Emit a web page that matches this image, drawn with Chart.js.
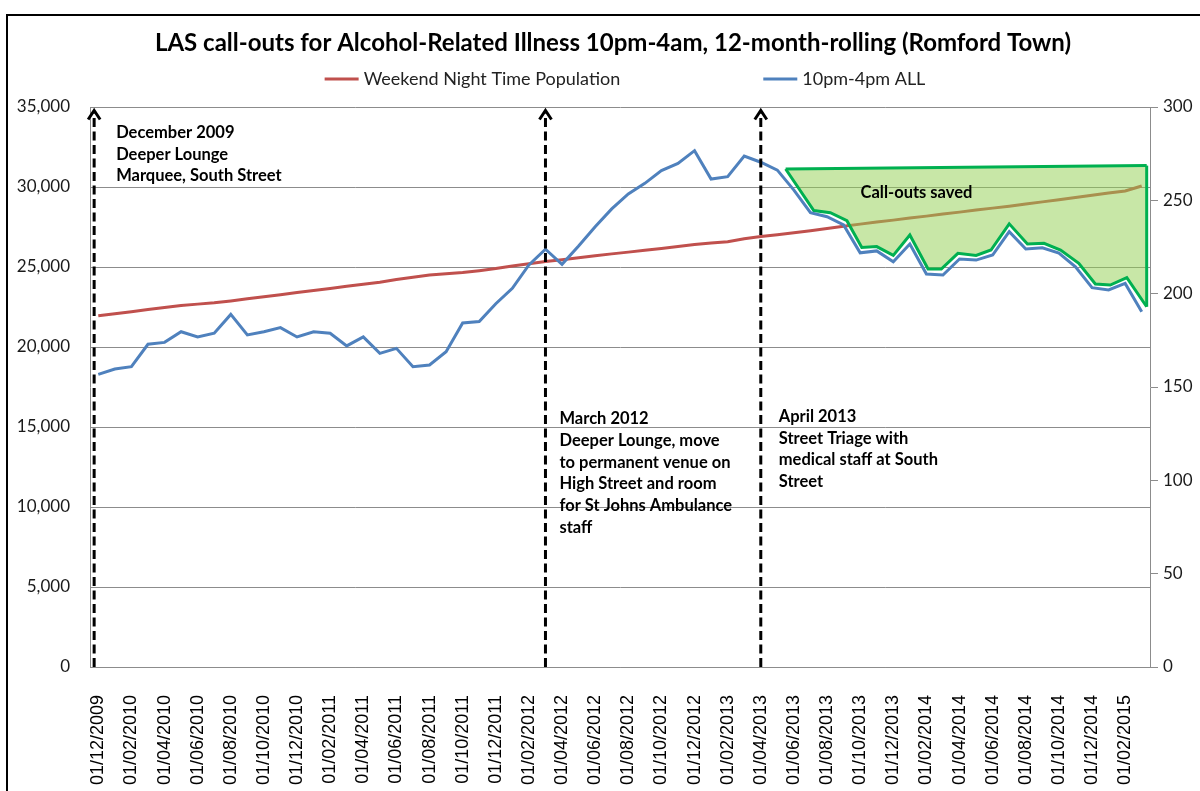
<!DOCTYPE html>
<html lang="en">
<head>
<meta charset="UTF-8">
<title>LAS call-outs for Alcohol-Related Illness (Romford Town)</title>
<script src="https://cdn.jsdelivr.net/npm/chart.js"></script>
<style>
  html, body { margin: 0; padding: 0; background: #fff; overflow: hidden; }
  .frame { position: absolute; left: 6px; top: 14px; width: 1300px; height: 900px; border: 2px solid #000; }
  .chart-box { position: absolute; left: 0; top: 0; width: 1226px; height: 791px; }
</style>
</head>
<body>
<div class="frame"></div>
<div class="chart-box"><canvas id="lasChart" width="1226" height="791"></canvas></div>
<script>
// month categories (Dec 2009 - Mar 2015)
const months = [
  '01/12/2009',
  '01/01/2010', '01/02/2010', '01/03/2010', '01/04/2010', '01/05/2010', '01/06/2010',
  '01/07/2010', '01/08/2010', '01/09/2010', '01/10/2010', '01/11/2010', '01/12/2010',
  '01/01/2011', '01/02/2011', '01/03/2011', '01/04/2011', '01/05/2011', '01/06/2011',
  '01/07/2011', '01/08/2011', '01/09/2011', '01/10/2011', '01/11/2011', '01/12/2011',
  '01/01/2012', '01/02/2012', '01/03/2012', '01/04/2012', '01/05/2012', '01/06/2012',
  '01/07/2012', '01/08/2012', '01/09/2012', '01/10/2012', '01/11/2012', '01/12/2012',
  '01/01/2013', '01/02/2013', '01/03/2013', '01/04/2013', '01/05/2013', '01/06/2013',
  '01/07/2013', '01/08/2013', '01/09/2013', '01/10/2013', '01/11/2013', '01/12/2013',
  '01/01/2014', '01/02/2014', '01/03/2014', '01/04/2014', '01/05/2014', '01/06/2014',
  '01/07/2014', '01/08/2014', '01/09/2014', '01/10/2014', '01/11/2014', '01/12/2014',
  '01/01/2015', '01/02/2015', '01/03/2015'
];

// Weekend Night Time Population (left axis)
const population = [
  21950, 22080, 22210, 22340, 22470, 22590, 22680, 22760, 22880, 23010,
  23140, 23270, 23400, 23530, 23660, 23790, 23920, 24050, 24220, 24360,
  24500, 24580, 24650, 24770, 24900, 25060, 25200, 25340, 25460, 25580,
  25700, 25820, 25930, 26050, 26160, 26280, 26400, 26500, 26580, 26770,
  26900, 27020, 27140, 27270, 27400, 27540, 27680, 27810, 27930, 28060,
  28180, 28310, 28430, 28560, 28680, 28800, 28940, 29070, 29210, 29350,
  29480, 29620, 29750, 30060
];

// 10pm-4pm ALL call-outs, 12-month rolling (right axis)
const callouts = [
  156.8, 159.6, 160.9, 172.9, 173.9, 179.6, 176.8, 178.8, 188.9, 177.9,
  179.6, 181.8, 176.8, 179.6, 178.8, 172.0, 176.8, 168.0, 170.7, 160.9,
  161.8, 168.9, 184.3, 185.1, 194.6, 202.9, 215.4, 223.8, 215.7, 225.5,
  235.9, 245.4, 253.4, 259.1, 265.9, 269.8, 276.6, 261.4, 262.7, 273.7,
  270.4, 266.2, 255.5, 243.4, 241.2, 236.8, 221.9, 222.9, 217.1, 226.6,
  210.5, 210.0, 218.6, 218.0, 220.7, 233.2, 223.9, 224.6, 221.8, 214.4,
  203.2, 202.0, 205.5, 190.3
];

// "Call-outs saved" shape (month index, right axis value)
const savedMonths = [41.5, 43.2, 44.2, 45.2, 46.1, 47.0, 48.0, 49.0, 50.1, 50.9, 51.9,
                     53.0, 53.9, 55.0, 56.1, 57.1, 58.1, 59.2, 60.2, 61.1, 62.1, 63.3];
const savedLower = [266.8, 244.5, 243.4, 239.1, 224.8, 225.2, 220.5, 231.4, 213.2, 213.2, 221.6,
                    220.5, 223.4, 237.4, 226.6, 227.0, 223.4, 216.3, 205.2, 204.6, 208.6, 193.0];
const savedTopMonths = [41.5, 63.3];
const savedTop = [266.8, 268.6];

// left / right tick ranges
const leftTicks = { min: 0, max: 35000, step: 5000 };
const rightTicks = { min: 0, max: 300, step: 50 };

// event notes: month index, left axis value of first line
const events = [
  { month: -0.25, value: 33400, dx: 22, lines: ['December 2009', 'Deeper Lounge', 'Marquee, South Street'] },
  { month: 27, value: 15500, dx: 14, lines: ['March 2012', 'Deeper Lounge, move', 'to permanent venue on',
      'High Street and room', 'for St Johns Ambulance', 'staff'] },
  { month: 40, value: 15650, dx: 18, lines: ['April 2013', 'Street Triage with', 'medical staff at South', 'Street'] }
];
const arrowTop = 34780;
const savedLabel = { text: 'Call-outs saved', month: 49.4, value: 254 };

const GREEN = '#00B050';
const GREEN_FILL = 'rgba(146, 208, 80, 0.5)';

const toPoints = (xs, ys) => xs.map((x, i) => ({ x: x, y: ys[i] }));

// arrows, notes and legend
const overlay = {
  id: 'overlay',
  afterDatasetsDraw(chart) {
    const { ctx, chartArea, scales } = chart;
    const xs = scales.x2, yl = scales.y, yr = scales.y2;
    ctx.save();
    ctx.fillStyle = '#000';
    ctx.font = 'bold 16.5px Lato';
    ctx.textAlign = 'center';
    ctx.textBaseline = 'middle';
    ctx.fillText(savedLabel.text, xs.getPixelForValue(savedLabel.month), yr.getPixelForValue(savedLabel.value));

    events.forEach(ev => {
      const x = xs.getPixelForValue(ev.month);
      const yTop = yl.getPixelForValue(arrowTop);
      ctx.strokeStyle = '#000';
      ctx.lineWidth = 3;
      ctx.setLineDash([9, 4.5]);
      ctx.beginPath();
      ctx.moveTo(x, chartArea.bottom);
      ctx.lineTo(x, yTop + 2);
      ctx.stroke();
      ctx.setLineDash([]);
      ctx.beginPath();
      ctx.moveTo(x - 6, yTop + 9);
      ctx.lineTo(x, yTop);
      ctx.lineTo(x + 6, yTop + 9);
      ctx.stroke();
      ctx.textAlign = 'left';
      const y0 = yl.getPixelForValue(ev.value);
      ev.lines.forEach((t, k) => ctx.fillText(t, x + ev.dx, y0 + k * 21.7));
    });
    ctx.restore();
  },
  afterDraw(chart) {
    const { ctx, chartArea } = chart;
    const items = chart.data.datasets.slice(0, 2);
    ctx.save();
    ctx.font = '18px Lato';
    ctx.textBaseline = 'middle';
    ctx.textAlign = 'left';
    const widths = items.map(d => 34 + 5 + ctx.measureText(d.label).width);
    const gap = 143;
    let x = (chartArea.left + chartArea.right) / 2 + 5 - (widths[0] + gap + widths[1]) / 2;
    const y = 79;
    items.forEach((d, i) => {
      ctx.strokeStyle = d.borderColor;
      ctx.lineWidth = 3;
      ctx.beginPath();
      ctx.moveTo(x, y);
      ctx.lineTo(x + 34, y);
      ctx.stroke();
      ctx.fillStyle = '#222';
      ctx.fillText(d.label, x + 39, y);
      x += widths[i] + gap;
    });
    ctx.restore();
  }
};

Chart.defaults.font.family = 'Lato';
Chart.defaults.color = '#1a1a1a';

new Chart(document.getElementById('lasChart'), {
  type: 'line',
  data: {
    labels: months,
    datasets: [
      {
        label: 'Weekend Night Time Population',
        data: population,
        yAxisID: 'y',
        borderColor: '#C0504D',
        borderWidth: 3,
        pointRadius: 0,
        order: 3
      },
      {
        label: '10pm-4pm ALL',
        data: callouts,
        yAxisID: 'y2',
        borderColor: '#4F81BD',
        borderWidth: 3,
        pointRadius: 0,
        order: 0
      },
      {
        label: 'saved top',
        data: toPoints(savedTopMonths, savedTop),
        xAxisID: 'x2',
        yAxisID: 'y2',
        borderColor: GREEN,
        borderWidth: 3,
        pointRadius: 0,
        order: 1
      },
      {
        label: 'saved lower',
        data: toPoints(savedMonths, savedLower),
        xAxisID: 'x2',
        yAxisID: 'y2',
        borderColor: GREEN,
        backgroundColor: GREEN_FILL,
        borderWidth: 3,
        borderJoinStyle: 'miter',
        pointRadius: 0,
        fill: 2,
        order: 2
      },
      {
        label: 'saved side',
        data: toPoints([savedMonths[savedMonths.length - 1], savedTopMonths[1]],
                       [savedLower[savedLower.length - 1], savedTop[1]]),
        xAxisID: 'x2',
        yAxisID: 'y2',
        borderColor: GREEN,
        borderWidth: 3,
        pointRadius: 0,
        order: 1
      }
    ]
  },
  options: {
    responsive: false,
    animation: false,
    devicePixelRatio: 1,
    locale: 'en-US',
    layout: { padding: 0 },
    plugins: {
      legend: { display: false },
      tooltip: { enabled: false },
      title: {
        display: true,
        text: 'LAS call-outs for Alcohol-Related Illness 10pm-4am, 12-month-rolling (Romford Town)',
        color: '#000',
        font: { size: 24, weight: 'bold' },
        padding: { top: 28.6, bottom: 49.6 }
      }
    },
    scales: {
      x: {
        type: 'category',
        offset: true,
        grid: { display: false },
        border: { display: true, color: '#8c8c8c', width: 1 },
        ticks: {
          autoSkip: false,
          maxRotation: 90,
          minRotation: 90,
          padding: 20,
          color: '#000',
          font: { family: 'Liberation Sans', size: 18 },
          callback: (val, idx) => (idx % 2 === 0 ? months[idx] : '')
        },
        afterFit: s => { s.height = 124; }
      },
      x2: {
        type: 'linear',
        display: false,
        min: -0.5,
        max: months.length - 0.5
      },
      y: {
        position: 'left',
        min: leftTicks.min,
        max: leftTicks.max,
        grid: { color: '#8c8c8c', drawTicks: false },
        border: { display: true, color: '#8c8c8c' },
        ticks: { stepSize: leftTicks.step, padding: 20, font: { size: 17 } },
        afterFit: s => { s.width = 90; }
      },
      y2: {
        position: 'right',
        min: rightTicks.min,
        max: rightTicks.max,
        grid: { drawOnChartArea: false, color: '#8c8c8c', tickLength: 8 },
        border: { display: true, color: '#8c8c8c' },
        ticks: { stepSize: rightTicks.step, padding: 5, font: { size: 17 } },
        afterFit: s => { s.width = 76; }
      }
    }
  },
  plugins: [overlay]
});
</script>
</body>
</html>
